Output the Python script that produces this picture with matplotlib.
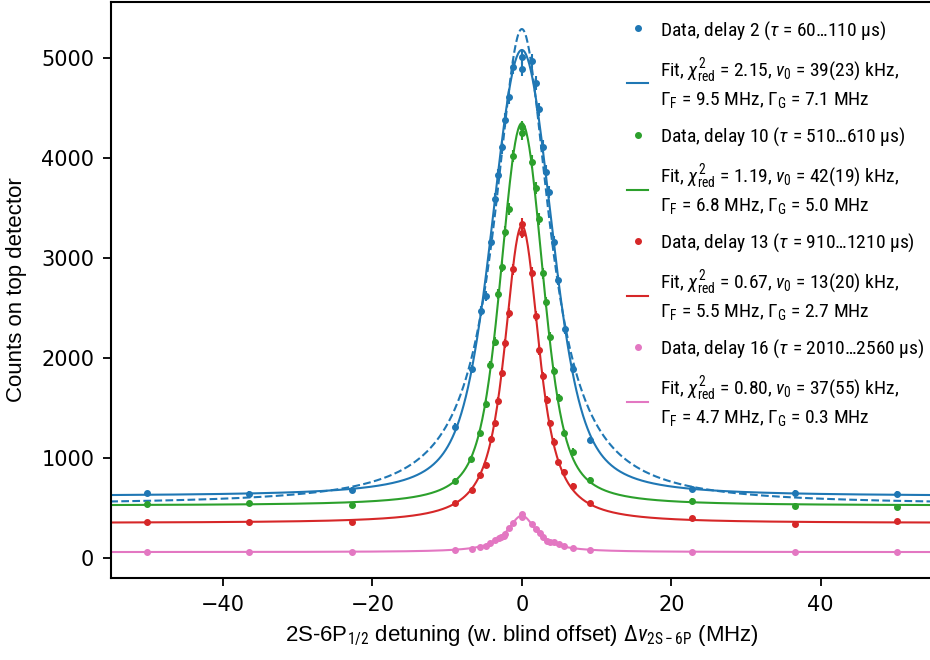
import numpy as np
import matplotlib
matplotlib.use("Agg")
import matplotlib.pyplot as plt
from matplotlib.lines import Line2D
from matplotlib import font_manager

# detunings (MHz) and counts
det_blue = [-50.2, -36.5, -22.8, -8.9, -6.7, -5.5, -4.85, -4.15, -3.6, -3.15, -2.7, -2.25, -1.75, -1.2, 0.0, 0.0,
            1.35, 1.9, 2.35, 2.85, 3.25, 3.6, 4.3, 4.85, 5.75, 6.85, 9.1, 22.8, 36.5, 50.2]
cnt_blue = [647, 640, 680, 1313, 1890, 2473, 2620, 3163, 3587, 3827, 4107, 4380, 4607, 4907, 5007, 4887,
            4973, 4747, 4487, 4113, 3863, 3663, 3163, 2780, 2287, 1895, 1180, 690, 653, 640]

det_green = [-50.2, -36.5, -22.8, -8.95, -6.75, -5.55, -4.75, -4.2, -3.6, -3.15, -2.7, -2.25, -1.75, -1.15, 0.0, 0.0,
             1.35, 1.9, 2.3, 2.8, 3.25, 3.75, 4.3, 4.95, 5.7, 6.85, 9.1, 22.8, 36.5, 50.2]
cnt_green = [537, 547, 533, 773, 990, 1253, 1540, 1930, 2163, 2637, 2913, 3263, 3487, 4020, 4307, 4247,
             3963, 3697, 3387, 2847, 2563, 2213, 1870, 1600, 1253, 1063, 780, 573, 523, 507]

det_red = [-50.2, -36.5, -22.8, -8.9, -6.65, -5.55, -4.8, -4.15, -3.6, -3.15, -2.7, -2.25, -1.75, -1.2, 0.0, 0.0,
           1.35, 1.9, 2.35, 2.85, 3.3, 3.75, 4.3, 4.85, 5.6, 6.8, 9.1, 22.8, 36.5, 50.2]
cnt_red = [357, 357, 363, 547, 680, 830, 930, 1187, 1347, 1570, 1853, 2147, 2447, 2887, 3340, 3253,
           2853, 2420, 2080, 1820, 1580, 1347, 1163, 963, 863, 720, 547, 397, 337, 373]

det_pink = [-50.2, -36.5, -22.8, -8.95, -6.65, -5.55, -4.8, -4.2, -3.65, -3.1, -2.75, -2.4, -2.2, -1.75, -1.2, 0.0, 0.0,
            1.3, 1.85, 2.4, 2.8, 3.3, 3.75, 4.3, 4.95, 5.7, 6.8, 9.1, 22.8, 36.5, 50.2]
cnt_pink = [63, 63, 63, 80, 90, 113, 123, 147, 180, 200, 213, 225, 240, 297, 353, 440, 410,
            340, 287, 253, 213, 170, 160, 160, 140, 123, 97, 80, 57, 63, 63]

colors = ["#1f77b4", "#2ca02c", "#d62728", "#e377c2"]
data_labels = [
    "Data, delay 2 ($\\tau$ = 60…110 µs)",
    "Data, delay 10 ($\\tau$ = 510…610 µs)",
    "Data, delay 13 ($\\tau$ = 910…1210 µs)",
    "Data, delay 16 ($\\tau$ = 2010…2560 µs)",
]
fit_labels = [
    "Fit, $\\chi^2_{\\rm red}$ = 2.15, $\\nu_0$ = 39(23) kHz,\n$\\Gamma_{\\rm F}$ = 9.5 MHz, $\\Gamma_{\\rm G}$ = 7.1 MHz",
    "Fit, $\\chi^2_{\\rm red}$ = 1.19, $\\nu_0$ = 42(19) kHz,\n$\\Gamma_{\\rm F}$ = 6.8 MHz, $\\Gamma_{\\rm G}$ = 5.0 MHz",
    "Fit, $\\chi^2_{\\rm red}$ = 0.67, $\\nu_0$ = 13(20) kHz,\n$\\Gamma_{\\rm F}$ = 5.5 MHz, $\\Gamma_{\\rm G}$ = 2.7 MHz",
    "Fit, $\\chi^2_{\\rm red}$ = 0.80, $\\nu_0$ = 37(55) kHz,\n$\\Gamma_{\\rm F}$ = 4.7 MHz, $\\Gamma_{\\rm G}$ = 0.3 MHz",
]

names = {f.name for f in font_manager.fontManager.ttflist}
narrow = "DejaVu Sans"
for cand in ["Liberation Sans Narrow", "DejaVu Sans Condensed", "Roboto Condensed", "Lato"]:
    if cand in names:
        narrow = cand
        break
leg_size = {"Liberation Sans Narrow": 14, "DejaVu Sans Condensed": 13, "Roboto Condensed": 14, "Lato": 12.5}.get(narrow, 12)

plt.rcParams["font.family"] = [narrow, "DejaVu Sans"]
plt.rcParams["mathtext.fontset"] = "custom"
plt.rcParams["mathtext.rm"] = narrow
plt.rcParams["mathtext.it"] = narrow + ":italic"
plt.rcParams["mathtext.bf"] = narrow + ":bold"


def voigt(x, wl, wg):
    # Voigt line shape normalised to 1 at the centre
    x = np.asarray(x, float)
    hl = wl / 2
    if wg <= 0:
        return hl**2 / (x**2 + hl**2)
    s = wg / 2.3548
    t = np.linspace(-5 * s, 5 * s, 201)
    g = np.exp(-0.5 * (t / s)**2)
    prof = (hl**2 / ((x[:, None] - t)**2 + hl**2)) @ g
    peak = (hl**2 / (t**2 + hl**2)) @ g
    return prof / peak


def fit(x, y, wgs):
    x = np.asarray(x, float)
    y = np.asarray(y, float)
    sig = np.sqrt(y)
    best = None
    for wl in np.arange(0.5, 14.01, 0.25):
        for wg in wgs:
            f = voigt(x, wl, wg)
            M = np.column_stack([f, np.ones_like(f)]) / sig[:, None]
            coef = np.linalg.lstsq(M, y / sig, rcond=None)[0]
            r = np.sum((M @ coef - y / sig)**2)
            if best is None or r < best[0]:
                best = (r, wl, wg, coef[0], coef[1])
    return best[1:]


series = [(det_blue, cnt_blue), (det_green, cnt_green), (det_red, cnt_red), (det_pink, cnt_pink)]
xf = np.linspace(-56, 56, 1121)

fig = plt.figure(figsize=(9.3, 6.6), dpi=100)
ax = fig.add_axes([111 / 930, 82 / 660, 821.7 / 930, 576 / 660])

for (d, c), col in zip(series, colors):
    wl, wg, A, B = fit(d, c, np.arange(0, 10.01, 0.25))
    ax.plot(xf, A * voigt(xf, wl, wg) + B, color=col, lw=1.5, zorder=2)
    ax.errorbar(d, c, yerr=np.sqrt(c), fmt="o", ms=4, color=col, elinewidth=1.5, capsize=0, zorder=3)

# Lorentzian-only fit to the first delay
wl, wg, A, B = fit(det_blue, cnt_blue, [0])
ax.plot(xf, A * voigt(xf, wl, 0) + B, color=colors[0], lw=1.5, ls="--", zorder=2)

ax.set_xlim(-55, 55)
ax.set_ylim(-200, 5560)
ax.set_xticks([-40, -20, 0, 20, 40])
ax.set_yticks([0, 1000, 2000, 3000, 4000, 5000])
ax.tick_params(labelsize=15, length=6, width=1.3, pad=6)
for lab in ax.get_xticklabels() + ax.get_yticklabels():
    lab.set_family("DejaVu Sans")
for sp in ax.spines.values():
    sp.set_linewidth(1.5)

ax.set_xlabel("2S-6P$_{1/2}$ detuning (w. blind offset) $\\Delta\\nu_{\\rm 2S-6P}$ (MHz)",
              fontsize=16, family="Liberation Sans", labelpad=6)
ax.set_ylabel("Counts on top detector", fontsize=16, family="Liberation Sans", labelpad=10)

handles = []
labels = []
for col, dl, fl in zip(colors, data_labels, fit_labels):
    handles.append(Line2D([], [], color=col, marker="o", ls="none", ms=4))
    labels.append(dl)
    handles.append(Line2D([], [], color=col, lw=1.5))
    labels.append(fl)
leg = fig.legend(handles, labels, loc="upper left", bbox_to_anchor=(627 / 930, 1 - 19 / 660),
                 frameon=False, fontsize=leg_size, handlelength=1.1, handletextpad=0.6,
                 labelspacing=0.78, borderpad=0, borderaxespad=0)
for t in leg.get_texts():
    t.set_linespacing(1.27)

fig.savefig("out.png", dpi=100)
